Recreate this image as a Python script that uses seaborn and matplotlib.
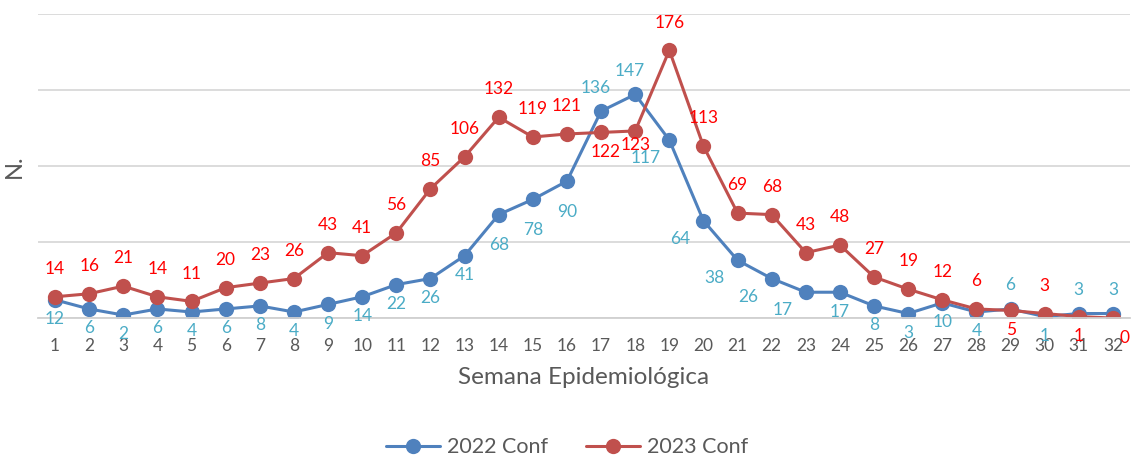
import pandas as pd
import numpy as np
import seaborn as sns
import matplotlib.pyplot as plt

# Datos por semana epidemiológica
semanas = list(range(1, 33))
conf_2022 = [12, 6, 2, 6, 4, 6, 8, 4, 9, 14, 22, 26, 41, 68, 78, 90,
             136, 147, 117, 64, 38, 26, 17, 17, 8, 3, 10, 4, 6, 1, 3, 3]
conf_2023 = [14, 16, 21, 14, 11, 20, 23, 26, 43, 41, 56, 85, 106, 132, 119, 121,
             122, 123, 176, 113, 69, 68, 43, 48, 27, 19, 12, 6, 5, 3, 1, 0]
series = ['2022 Conf', '2023 Conf']

# Semanas donde la etiqueta va al otro lado de la línea
arriba_2022 = [17, 18, 29, 31, 32]
abajo_2023 = [17, 18, 29, 31, 32]
izquierda_2022 = [19, 20, 21, 22, 23]

df = pd.DataFrame({
    'semana': semanas * 2,
    'casos': conf_2022 + conf_2023,
    'serie': [series[0]] * 32 + [series[1]] * 32,
})
df['x'] = df['semana'] - 1

sns.set_theme(style='white')
plt.rcParams['font.family'] = ['Lato', 'DejaVu Sans']

colores = {'2022 Conf': '#4f81bd', '2023 Conf': '#c0504d'}
fig = plt.figure(figsize=(11.34, 4.59), dpi=100)
ax = fig.add_axes([0.0335, 0.307, 0.963, 0.663])

sns.lineplot(data=df, x='x', y='casos', hue='serie', palette=colores,
             marker='o', markersize=11, markeredgewidth=0, linewidth=2.2,
             ax=ax, legend=True)

ax.set_xlim(-0.5, 31.5)
ax.set_ylim(0, 200)
ax.set_yticks([0, 50, 100, 150, 200])
ax.set_yticklabels([])
ax.tick_params(axis='y', length=0)
ax.grid(axis='y', color='#d9d9d9', linewidth=1.3)
ax.set_axisbelow(True)
for s in ['top', 'right', 'left']:
    ax.spines[s].set_visible(False)
ax.spines['bottom'].set_color('#d0d0d0')
ax.spines['bottom'].set_linewidth(1.3)

ax.set_xticks(range(32))
ax.set_xticklabels([str(s) for s in semanas], fontsize=12.5, color='#595959')
ax.set_xticks(np.arange(-0.5, 32, 1), minor=True)
ax.tick_params(axis='x', which='major', length=0, pad=14)
ax.tick_params(axis='x', which='minor', length=5, color='#d0d0d0', width=1.2)

ax.set_xlabel('Semana Epidemiológica', fontsize=17.5, color='#595959', labelpad=10)
ax.set_ylabel('N.', fontsize=17, color='#595959', labelpad=6)

# Etiquetas de datos
for i, v in enumerate(conf_2022):
    sem = semanas[i]
    if sem in arriba_2022:
        dx, dy = (-4 if sem in [17, 18] else 0), 17
    elif sem in izquierda_2022:
        dx, dy = -17, -13
    elif sem in [14, 15, 16]:
        dx, dy = 0, -22
    else:
        dx, dy = 0, -14
    ax.annotate(str(v), (i, v), xytext=(dx, dy), textcoords='offset points',
                ha='center', va='center', fontsize=12.5, color='#4bacc6')

for i, v in enumerate(conf_2023):
    sem = semanas[i]
    if sem in abajo_2023:
        dx, dy = (3 if sem == 17 else 0), (-10 if sem == 18 else -14)
        if sem == 32:
            dx = 8
    else:
        dx, dy = 0, 20
    ax.annotate(str(v), (i, v), xytext=(dx, dy), textcoords='offset points',
                ha='center', va='center', fontsize=12.5, color='#ff0000')

handles, labels = ax.get_legend_handles_labels()
ax.legend().remove()
fig.legend(handles, labels, loc='center', bbox_to_anchor=(0.5, 0.026), ncol=2,
           frameon=False, fontsize=15.5, labelcolor='#595959', handlelength=2.5,
           handletextpad=0.3, columnspacing=1.8)

plt.savefig('out.png', dpi=100)
